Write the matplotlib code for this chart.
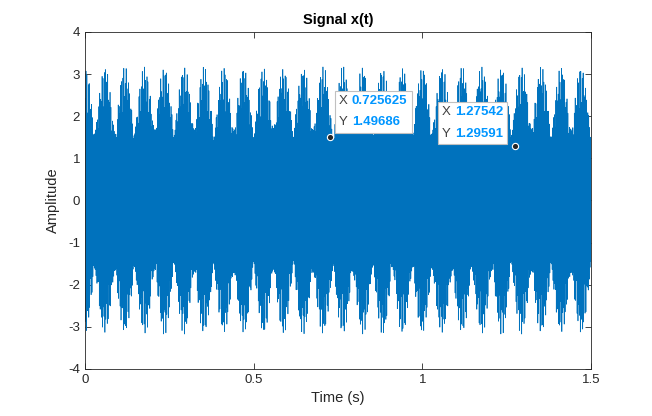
import numpy as np
import matplotlib.pyplot as plt
from matplotlib.offsetbox import TextArea, HPacker, VPacker, AnnotationBbox

plt.rcParams['font.family'] = ['Liberation Sans', 'DejaVu Sans']
plt.rcParams['axes.unicode_minus'] = False

# signal x(t): sum of tones, sampled at fs over 1.5 s
fs = 9600
duration = 1.5
tone_freqs = [420, 437, 1150]
tone_amps = [1.25, 0.75, 1.2]

# data tips shown on the plot
tip_x = [0.725625, 1.27542]
tip_y = [1.49686, 1.29591]
tip_xlabels = ["0.725625", "1.27542"]
tip_ylabels = ["1.49686", "1.29591"]

t = np.arange(0, duration + 1 / fs, 1 / fs)
x = np.zeros_like(t)
for f, a in zip(tone_freqs, tone_amps):
    x += a * np.sin(2 * np.pi * f * t)

fig = plt.figure(figsize=(6.52, 4.16), dpi=100)
ax = fig.add_axes([0.1304, 0.1130, 0.7760, 0.8101])

ax.plot(t, x, color='#0072BD', linewidth=0.5)
ax.set_xlim(0, 1.5)
ax.set_ylim(-4, 4)
ax.set_xticks([0, 0.5, 1, 1.5])
ax.set_xticklabels(["0", "0.5", "1", "1.5"])
ax.set_yticks(range(-4, 5))
ax.tick_params(direction='in', length=4, width=0.6, labelsize=9.5,
               colors='#262626', top=True, right=True)
for s in ax.spines.values():
    s.set_linewidth(0.6)
    s.set_color('#262626')

ax.set_xlabel("Time (s)", fontsize=10.5, color='#262626')
ax.set_ylabel("Amplitude", fontsize=10.5, color='#262626', labelpad=6)
ax.set_title("Signal x(t)", fontsize=10.5, fontweight='bold', color='black', pad=6)

# data tip boxes, frame pad 6.5 pt is included in the offsets
offsets = [((6.5, 6.5), (0, 0)), ((-8.7, 4.3), (1, 0))]
for i in range(len(tip_x)):
    ax.plot(tip_x[i], tip_y[i], 'o', markersize=4.5, markerfacecolor='#262626',
            markeredgecolor='white', markeredgewidth=0.8, zorder=8)
    rows = []
    for lab, val in (("X", tip_xlabels[i]), ("Y", tip_ylabels[i])):
        rows.append(HPacker(children=[
            TextArea(lab, textprops=dict(color='#404040', fontsize=9.5)),
            TextArea(val, textprops=dict(color='#0096FF', fontsize=9.5, fontweight='bold')),
        ], pad=0, sep=3, align='baseline'))
    box = VPacker(children=rows, pad=0, sep=7, align='left')
    ab = AnnotationBbox(box, (tip_x[i], tip_y[i]), xybox=offsets[i][0],
                        xycoords='data', boxcoords='offset points',
                        box_alignment=offsets[i][1], frameon=True, pad=0.65,
                        bboxprops=dict(edgecolor='#c0c0c0', facecolor='white',
                                       boxstyle='square', linewidth=0.8),
                        zorder=6)
    ax.add_artist(ab)

fig.savefig("out.png", dpi=100)
